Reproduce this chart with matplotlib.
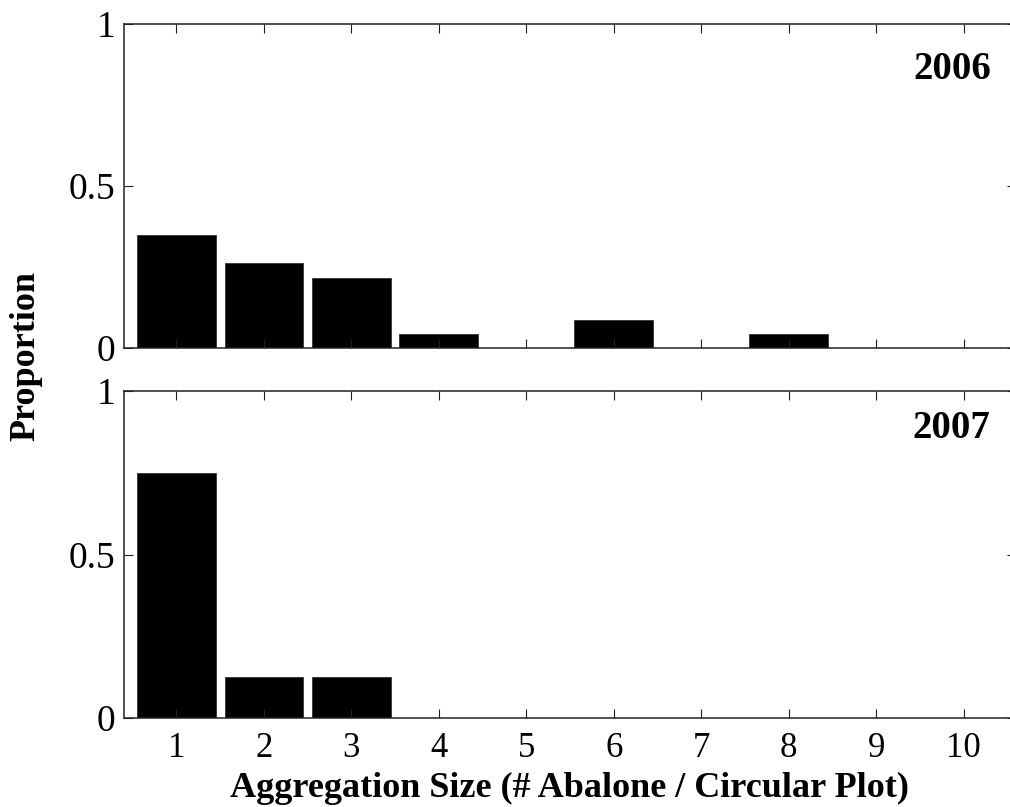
import matplotlib.pyplot as plt
import numpy as np

plt.rcParams['font.family'] = ['Liberation Serif', 'DejaVu Serif']

# Proportion of circular plots per aggregation size
sizes = [1, 2, 3, 4, 5, 6, 7, 8, 9, 10]
prop_2006 = [0.348, 0.261, 0.217, 0.0435, 0.0, 0.087, 0.0, 0.0435, 0.0, 0.0]
prop_2007 = [0.75, 0.125, 0.125, 0.0, 0.0, 0.0, 0.0, 0.0, 0.0, 0.0]
years = ["2006", "2007"]

W, H = 1010, 807
fig = plt.figure(figsize=(W / 100, H / 100), dpi=100)

ax_top = fig.add_axes([124 / W, 1 - 348 / H, (1016 - 124) / W, (348 - 24) / H])
ax_bot = fig.add_axes([124 / W, 1 - 718 / H, (1016 - 124) / W, (718 - 391) / H])

# year label anchor (right edge, baseline) in axes fractions
year_pos = [(0.972, 0.830), (0.971, 0.856)]

for ax, vals, year, pos in [(ax_top, prop_2006, years[0], year_pos[0]),
                            (ax_bot, prop_2007, years[1], year_pos[1])]:
    ax.bar(sizes, vals, width=0.9, color="black", edgecolor="#333333", linewidth=0.6)
    ax.set_xlim(0.4, 10.6)
    ax.set_ylim(0, 1)
    ax.set_xticks(sizes)
    ax.set_yticks([0, 0.5, 1])
    ax.set_yticklabels(["0", "0.5", "1"])
    ax.tick_params(direction="in", length=6.5, width=0.8, top=True, right=True,
                   color="#222222")
    ax.tick_params(axis="y", labelsize=27, pad=6)
    ax.tick_params(axis="x", labelsize=25, pad=10)
    for s in ax.spines.values():
        s.set_linewidth(1.1)
        s.set_color("#222222")
    ax.text(pos[0], pos[1], year, transform=ax.transAxes, ha="right", va="baseline",
            fontsize=28, fontweight="bold")

ax_top.set_xticklabels([])

fig.text(569 / W, 1 - 788 / H, "Aggregation Size (# Abalone / Circular Plot)",
         ha="center", va="center", fontsize=26, fontweight="bold")
fig.text(26 / W, 1 - 356 / H, "Proportion", ha="center", va="center",
         rotation=90, fontsize=26, fontweight="bold")

fig.savefig("out.png", dpi=100)
